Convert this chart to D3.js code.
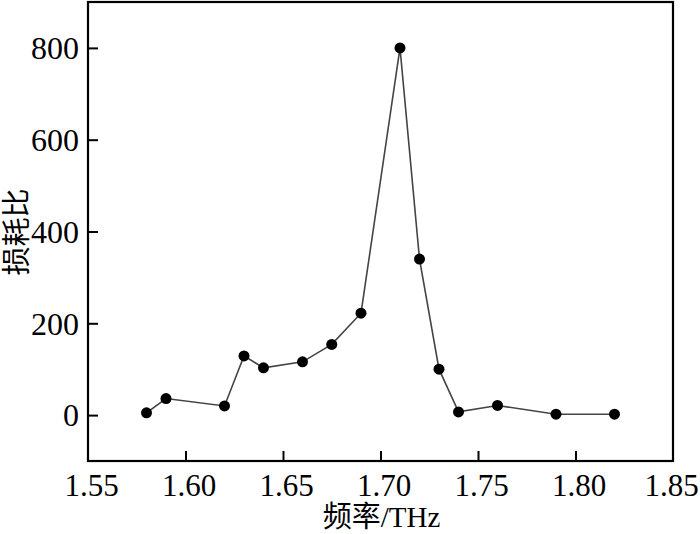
<!DOCTYPE html>
<html><head><meta charset="utf-8">
<script src="https://cdn.jsdelivr.net/npm/d3@7"></script>
<style>body{margin:0;background:#fff}svg{display:block}</style>
</head><body>
<svg id="c" width="700" height="534"></svg>
<script>
const freq = [1.58, 1.59, 1.62, 1.63, 1.64, 1.66, 1.675, 1.69, 1.71, 1.72, 1.73, 1.74, 1.76, 1.79, 1.82];
const ratio = [5, 36, 20, 129, 103, 116, 154, 222, 800, 340, 100, 7, 21, 2, 2];
const xTicks = [1.55, 1.60, 1.65, 1.70, 1.75, 1.80, 1.85];
const yTicks = [0, 200, 400, 600, 800];
const xTitle = "频率/THz";
const yTitle = "损耗比";

const svg = d3.select("#c");
const L = 88, R = 673, T = 2, B = 461;
const x = d3.scaleLinear().domain([1.55, 1.85]).range([L, R]);
const y = d3.scaleLinear().domain([-100, 900]).range([B, T]);
const font = "'Liberation Serif','Times New Roman','Noto Sans CJK SC',serif";

// bottom axis
const gx = svg.append("g").attr("transform", `translate(0,${B})`)
  .call(d3.axisBottom(x).tickValues(xTicks).tickFormat(d3.format(".2f")).tickSizeInner(-10).tickSizeOuter(0).tickPadding(0));
gx.select(".domain").remove();
gx.selectAll(".tick line").attr("stroke", "#000").attr("stroke-width", 2)
  .filter(d => d === 1.55 || d === 1.85).remove();
gx.selectAll(".tick text").attr("font-family", font).attr("font-size", 31).attr("fill", "#000")
  .attr("dy", 0).attr("y", 35).attr("dx", d => d === 1.85 ? -2 : 3);

// left axis
const gy = svg.append("g").attr("transform", `translate(${L},0)`)
  .call(d3.axisLeft(y).tickValues(yTicks).tickSizeInner(-10).tickSizeOuter(0).tickPadding(0));
gy.select(".domain").remove();
gy.selectAll(".tick line").attr("stroke", "#000").attr("stroke-width", 2);
gy.selectAll(".tick text").attr("font-family", font).attr("font-size", 32).attr("fill", "#000")
  .attr("x", -9).attr("dy", "0.34em");

// frame
svg.append("rect").attr("x", L).attr("y", T).attr("width", R - L).attr("height", B - T)
  .attr("fill", "none").attr("stroke", "#000").attr("stroke-width", 2.2);

// line
const data = freq.map((f, i) => ({f, v: ratio[i]}));
svg.append("path").datum(data)
  .attr("d", d3.line().x(d => x(d.f)).y(d => y(d.v)))
  .attr("fill", "none").attr("stroke", "#444").attr("stroke-width", 1.6);
svg.selectAll("circle.pt").data(data).enter().append("circle")
  .attr("class", "pt").attr("cx", d => x(d.f)).attr("cy", d => y(d.v)).attr("r", 5.5).attr("fill", "#000");

// titles
svg.append("text").attr("x", (L + R) / 2 + 1).attr("y", 527).attr("text-anchor", "middle")
  .attr("font-family", font).attr("font-size", 29).attr("fill", "#000").text(xTitle);
svg.append("text").attr("transform", `translate(27,${232}) rotate(-90)`).attr("text-anchor", "middle")
  .attr("font-family", font).attr("font-size", 29).attr("fill", "#000").text(yTitle);
</script>
</body></html>
